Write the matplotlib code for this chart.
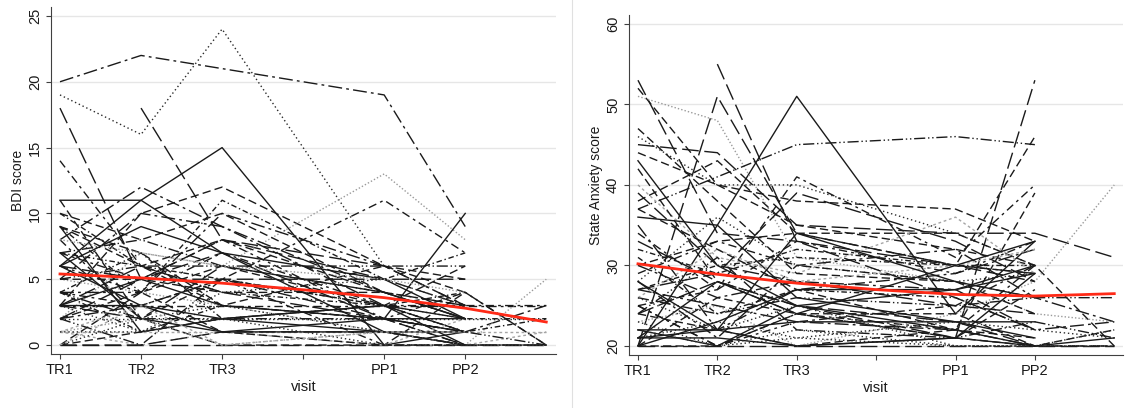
import numpy as np
import matplotlib.pyplot as plt
from matplotlib.lines import Line2D

plt.rcParams['font.family'] = ['Liberation Sans', 'DejaVu Sans']

nan = np.nan

# visit positions actually measured (slot 3 has no visit, slot 6 is the follow-up)
visit_pos = [0, 1, 2, 4, 5, 6]
tick_pos = [0, 1, 2, 3, 4, 5]
tick_labels = ['TR1', 'TR2', 'TR3', '', 'PP1', 'PP2']

# BDI per subject: TR1, TR2, TR3, PP1, PP2, follow-up
bdi = [
    [20, 22, 21, 19, 9, nan],
    [19, 16, 24, 6, nan, nan],
    [18, 5, 7, 2, 1, nan],
    [nan, 18, 8, 5, 3, nan],
    [14, 6, 3, 2, 0, nan],
    [6, 11, 15, 0, 1, nan],
    [11, 11, 7, 1, 0, nan],
    [3, 10, 12, 6, 5, nan],
    [9, 4, 11, 5, 7, nan],
    [2, 7, 6, 13, 8, nan],
    [4, 3, 5, 11, 7, nan],
    [7, 2, 1, 2, 10, nan],
    [5, 6, 6, 6, 6, nan],
    [6, 5, 5, 5, 5, nan],
    [3, 3, 3, 3, 3, 3],
    [2, 2, 2, 2, 2, 2],
    [1, 1, 1, 1, 1, 1],
    [0, 0, 0, 0, 0, 0],
    [10, 8, 10, 4, 2, nan],
    [8, 12, 9, 3, 1, 3],
    [5, 4, 3, 1, 0, 5],
    [9, 1, 2, 3, 0, 0],
    [11, 2, 0, 0, 4, 0],
    [1, 0, 1, 0, 0, 1],
    [4, 7, 2, 3, 4, nan],
    [7, 8, 6, 4, 2, nan],
    [0, 4, 6, 3, 2, nan],
    [3, 1, 4, 5, 3, nan],
    [6, 3, 2, 1, 0, nan],
    [2, 5, 8, 6, 3, nan],
    [8, 2, 5, 0, 0, nan],
    [1, 2, 0, 1, 0, 0],
    [4, 1, 3, 2, 1, 2],
    [0, 1, 2, 3, 6, nan],
    [5, 10, 9, 4, 3, nan],
    [3, 6, 4, 2, 0, nan],
    [2, 0, 5, 3, 1, 0],
    [9, 7, 3, 6, 4, nan],
    [1, 3, 1, 0, 2, nan],
    [6, 9, 7, 5, 2, nan],
    [0, 2, 3, 1, 0, nan],
    [4, 4, 10, 6, 3, nan],
    [7, 5, 8, 2, 4, 0],
    [2, 4, 1, 0, 0, nan],
    [10, 6, 4, 3, 1, nan],
    [3, 2, 6, 4, 2, nan],
    [3, 3, 1, 1, 1, nan],
    [5, 5, 4, 4, 3, nan],
    [0, 0, 1, 1, 0, 0],
    [8, 7, 6, 5, 4, nan],
    [4, 2, 2, 2, 1, nan],
    [2, 3, 5, 2, 1, nan],
    [6, 4, 7, 3, 3, 3],
    [1, 1, 2, 0, 0, 0],
    [7, 6, 5, 3, 2, 2],
    [0, 3, 0, 1, 1, nan],
    [9, 6, 8, 4, 2, nan],
    [3, 5, 3, 2, 2, nan],
]
bdi_style = [3, 2, 4, 4, 5, 0, 0, 1, 7, 6, 5, 0, 8, 4, 5, 2, 9, 4, 1, 3,
             6, 0, 1, 9, 7, 8, 1, 2, 0, 4, 5, 6, 7, 1, 3, 4, 8, 1, 9, 0,
             2, 3, 5, 1, 7, 4, 0, 1, 4, 6, 8, 3, 5, 2, 7, 9, 1, 0]

# State anxiety per subject: TR1, TR2, TR3, PP1, PP2, follow-up
stai = [
    [20, 35, 51, 24, 33, nan],
    [53, 34, 33, 30, 28, nan],
    [52, 40, 35, 32, 30, nan],
    [51, 48, 31, 28, 24, 23],
    [20, 51, 34, 30, 29, nan],
    [nan, 55, 33, 26, 22, nan],
    [37, 41, 45, 46, 45, nan],
    [45, 44, 35, 34, 34, 31],
    [46, 40, 40, 34, 30, nan],
    [44, 40, 38, 37, 33, nan],
    [38, 43, 34, 30, 46, nan],
    [25, 27, 41, 31, 40, nan],
    [30, 33, 34, 34, 30, 20],
    [28, 36, 30, 28, 29, nan],
    [27, 30, 31, 30, 30, nan],
    [33, 28, 25, 21, 53, nan],
    [24, 22, 20, 22, 39, nan],
    [22, 22, 23, 23, 23, nan],
    [21, 21, 20, 21, 20, nan],
    [20, 20, 20, 20, 20, 20],
    [25, 20, 24, 22, 30, nan],
    [30, 26, 28, 27, 22, 23],
    [23, 25, 20, 24, 28, 40],
    [43, 30, 25, 22, 20, 21],
    [26, 24, 26, 25, 26, 26],
    [40, 31, 29, 36, 29, nan],
    [29, 33, 30, 28, 26, nan],
    [35, 22, 27, 29, 32, nan],
    [42, 28, 24, 24, 20, 22],
    [21, 23, 21, 20, 20, 20],
    [32, 29, 32, 30, 29, nan],
    [39, 30, 28, 25, 24, nan],
    [24, 31, 22, 21, 23, 21],
    [22, 20, 25, 27, 30, nan],
    [34, 27, 33, 29, 33, nan],
    [20, 26, 24, 21, 27, nan],
    [28, 21, 30, 32, 26, 23],
    [47, 38, 29, 28, 24, nan],
    [36, 35, 26, 23, 21, nan],
    [31, 24, 27, 26, 22, nan],
    [27, 29, 39, 33, 28, nan],
    [23, 20, 22, 20, 20, 20],
    [26, 32, 28, 30, 32, nan],
    [21, 22, 34, 28, 26, nan],
    [20, 20, 24, 21, 20, nan],
    [22, 20, 21, 23, 22, 21],
    [28, 22, 20, 21, 29, nan],
    [25, 20, 23, 25, 30, nan],
    [20, 23, 27, 27, 29, nan],
    [24, 28, 25, 23, 20, 20],
    [37, 32, 27, 22, 21, nan],
    [27, 25, 23, 22, 20, nan],
    [21, 28, 24, 30, 33, nan],
    [26, 22, 25, 20, 20, 22],
]
stai_style = [0, 4, 1, 6, 4, 4, 8, 4, 2, 1, 1, 5, 1, 2, 7, 4, 1, 0, 0, 4,
              5, 3, 6, 0, 8, 9, 5, 3, 1, 2, 7, 4, 8, 0, 5, 1, 3, 1, 0, 7,
              4, 2, 9, 0, 1, 2, 0, 5, 0, 4, 1, 3, 0, 2]

# fitted mean trajectories, one value per slot 0..6
fit_pos = [0, 1, 2, 3, 4, 5, 6]
bdi_fit = [5.4, 5.1, 4.7, 4.2, 3.6, 2.8, 1.75]
stai_fit = [30.2, 28.9, 27.8, 27.0, 26.4, 26.2, 26.5]

line_styles = [
    ('#1a1a1a', 'solid'),
    ('#1a1a1a', (0, (6, 3))),
    ('#2a2a2a', (0, (1, 2))),
    ('#1a1a1a', (0, (10, 3, 2, 3))),
    ('#1a1a1a', (0, (12, 4))),
    ('#1a1a1a', (0, (6, 3, 2, 3))),
    ('#9a9a9a', (0, (1, 1.5))),
    ('#1a1a1a', (0, (4, 2, 1, 2))),
    ('#1a1a1a', (0, (8, 2, 1, 2, 1, 2))),
    ('#a5a5a5', (0, (2, 2))),
]

W, H = 1131, 408
fig = plt.figure(figsize=(W / 100, H / 100), dpi=100)


def px_axes(x0, y0, x1, y1):
    return fig.add_axes([x0 / W, 1 - y1 / H, (x1 - x0) / W, (y1 - y0) / H])


def draw_panel(ax, series, styles, fit, yticks, ylim, xlim, ylabel):
    for row, k in zip(series, styles):
        row = np.array(row, dtype=float)
        ok = ~np.isnan(row)
        xs = np.array(visit_pos)[ok]
        color, ls = line_styles[k]
        ax.plot(xs, row[ok], color=color, linestyle=ls, linewidth=1.0,
                zorder=2)
    ax.plot(fit_pos, fit, color='#ff2a17', linewidth=2.0, zorder=3)
    ax.set_xlim(*xlim)
    ax.set_ylim(*ylim)
    ax.set_xticks(tick_pos)
    ax.set_xticklabels(tick_labels)
    ax.set_yticks(yticks)
    ax.set_yticklabels([str(v) for v in yticks], rotation=90, va='center')
    for v in yticks:
        ax.axhline(v, color='#e6e6e6', linewidth=1.0, zorder=0)
    for s in ['top', 'right']:
        ax.spines[s].set_visible(False)
    for s in ['left', 'bottom']:
        ax.spines[s].set_color('#404040')
        ax.spines[s].set_linewidth(0.8)
    ax.tick_params(direction='out', length=3.5, width=0.8, color='#404040',
                   labelsize=10.5, labelcolor='#1a1a1a', pad=3)
    ax.set_xlabel('visit', fontsize=10.5, color='#1a1a1a', labelpad=2)
    ax.set_ylabel(ylabel, fontsize=10, color='#1a1a1a', labelpad=2)


ax1 = px_axes(51, 7, 556, 354)
draw_panel(ax1, bdi, bdi_style, bdi_fit, [0, 5, 10, 15, 20, 25],
           (-0.68, 25.68), (-0.111, 6.12), 'BDI score')

ax2 = px_axes(629, 15, 1123, 355)
draw_panel(ax2, stai, stai_style, stai_fit, [20, 30, 40, 50, 60],
           (18.88, 61.1), (-0.113, 6.11), 'State Anxiety score')

# thin divider between the two panels
fig.add_artist(Line2D([571.5 / W, 571.5 / W], [0, 1], color='#e0e0e0',
                      linewidth=0.8))

fig.savefig('out.png', dpi=100)
